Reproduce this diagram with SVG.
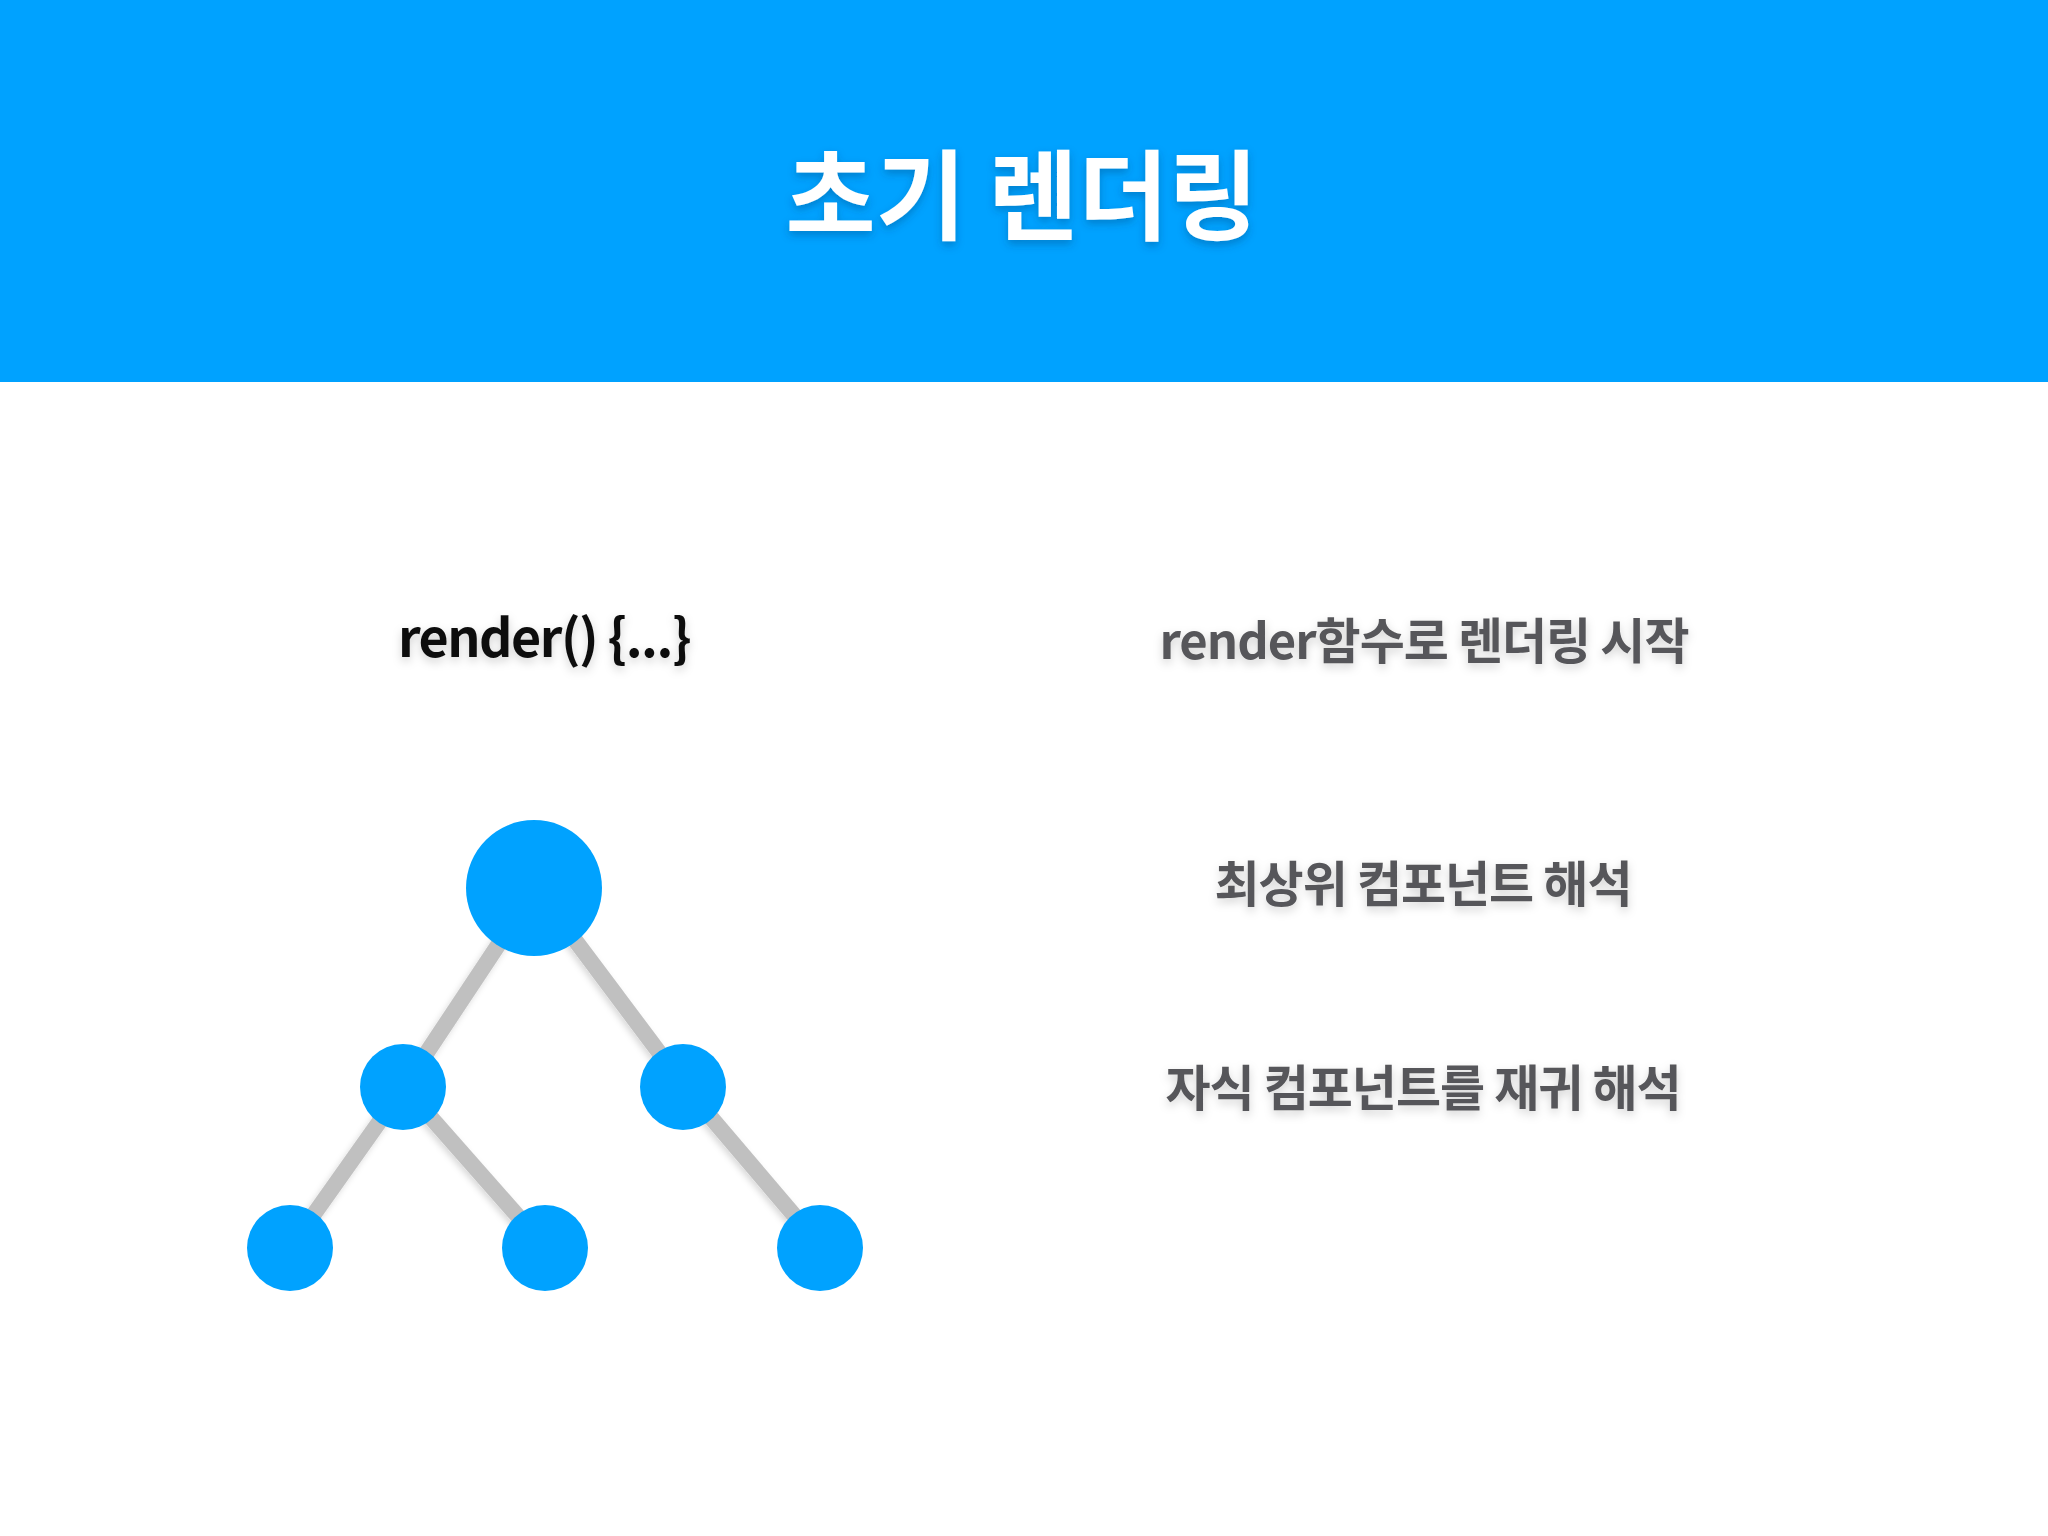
<svg xmlns="http://www.w3.org/2000/svg" width="2048" height="1536" viewBox="0 0 2048 1536">
  <defs>
    <filter id="titleShadow" x="-10%" y="-20%" width="120%" height="150%">
      <feDropShadow dx="0" dy="4" stdDeviation="4" flood-color="#003a70" flood-opacity="0.35"/>
    </filter>
    <filter id="textShadow" x="-10%" y="-30%" width="120%" height="170%">
      <feDropShadow dx="0" dy="4" stdDeviation="5" flood-color="#000000" flood-opacity="0.18"/>
    </filter>
    <filter id="edgeShadow" x="-20%" y="-20%" width="140%" height="140%">
      <feDropShadow dx="-2" dy="3" stdDeviation="3" flood-color="#000000" flood-opacity="0.15"/>
    </filter>
  </defs>
  <style>
    .title { font-family: "Noto Sans CJK KR", "Noto Sans", sans-serif; font-weight: 700; font-size: 98px; fill: #ffffff; text-anchor: middle; }
    .code { font-family: "Noto Sans CJK KR", "Noto Sans", sans-serif; font-weight: 700; font-size: 52px; fill: #111111; text-anchor: middle; letter-spacing: -1.5px; }
    .desc { font-family: "Noto Sans CJK KR", "Noto Sans", sans-serif; font-weight: 700; font-size: 49px; fill: #57575a; text-anchor: middle; letter-spacing: -1px; }
    .node { fill: #00A2FF; }
    .edge { stroke: #C0C0C0; stroke-width: 16; stroke-linecap: butt; fill: none; }
  </style>

  <rect x="0" y="0" width="2048" height="1536" fill="#ffffff"/>

  <g id="header">
    <rect x="0" y="0" width="2048" height="382" fill="#00A2FF"/>
    <text class="title" x="1022" y="232" filter="url(#titleShadow)">초기 렌더링</text>
  </g>

  <g id="code-label">
    <text class="code" x="544" y="657" filter="url(#textShadow)">render() {...}</text>
  </g>

  <g id="connectors" filter="url(#edgeShadow)">
    <line class="edge" x1="536" y1="888" x2="404" y2="1087"/>
    <line class="edge" x1="536" y1="888" x2="685" y2="1087"/>
    <line class="edge" x1="404" y1="1087" x2="290" y2="1248"/>
    <line class="edge" x1="404" y1="1087" x2="546" y2="1248"/>
    <line class="edge" x1="685" y1="1087" x2="822" y2="1248"/>
  </g>

  <g id="node-root"><circle class="node" cx="534" cy="888" r="68"/></g>
  <g id="node-mid-left"><circle class="node" cx="403" cy="1087" r="43"/></g>
  <g id="node-mid-right"><circle class="node" cx="683" cy="1087" r="43"/></g>
  <g id="node-leaf-1"><circle class="node" cx="290" cy="1248" r="43"/></g>
  <g id="node-leaf-2"><circle class="node" cx="545" cy="1248" r="43"/></g>
  <g id="node-leaf-3"><circle class="node" cx="820" cy="1248" r="43"/></g>

  <g id="step-1">
    <text class="desc" x="1424" y="659" filter="url(#textShadow)">render함수로 렌더링 시작</text>
  </g>
  <g id="step-2">
    <text class="desc" x="1423" y="902" filter="url(#textShadow)">최상위 컴포넌트 해석</text>
  </g>
  <g id="step-3">
    <text class="desc" x="1423" y="1106" filter="url(#textShadow)">자식 컴포넌트를 재귀 해석</text>
  </g>
</svg>
